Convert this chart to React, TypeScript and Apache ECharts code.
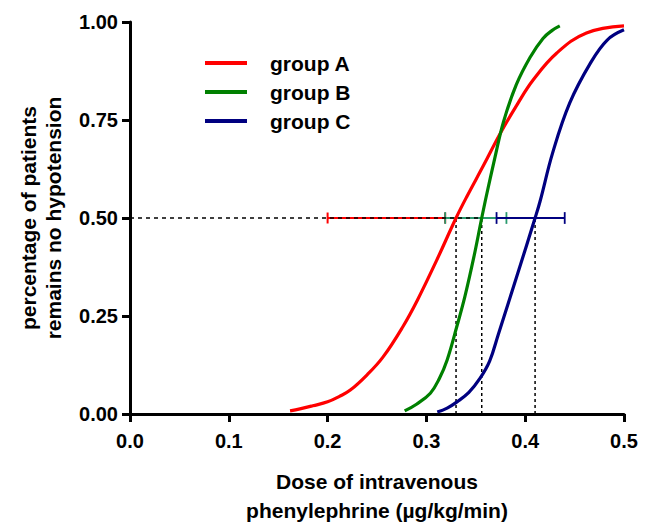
import React, { useEffect, useRef } from "react";
import * as echarts from "echarts";

const groupNames = ["group A", "group B", "group C"];
const colors = ["#ff0000", "#008000", "#000080"];
const errorColors = ["#ff0000", "#2a9a6e", "#000080"];

const groupAX = [0.162, 0.172, 0.185, 0.2, 0.212, 0.223, 0.24, 0.256, 0.276, 0.291, 0.31, 0.33, 0.341, 0.358, 0.375, 0.392, 0.408, 0.432, 0.462, 0.5];
const groupAY = [0.008, 0.013, 0.021, 0.031, 0.045, 0.061, 0.1, 0.145, 0.222, 0.291, 0.39, 0.5, 0.555, 0.635, 0.717, 0.79, 0.852, 0.921, 0.972, 0.99];

const groupBX = [0.278, 0.29, 0.304, 0.313, 0.321, 0.331, 0.339, 0.348, 0.356, 0.361, 0.369, 0.378, 0.391, 0.405, 0.418, 0.427, 0.435];
const groupBY = [0.008, 0.025, 0.053, 0.09, 0.138, 0.225, 0.3, 0.4, 0.5, 0.56, 0.65, 0.745, 0.84, 0.91, 0.958, 0.978, 0.99];

const groupCX = [0.311, 0.321, 0.331, 0.343, 0.354, 0.364, 0.373, 0.392, 0.41, 0.415, 0.428, 0.445, 0.466, 0.483, 0.5];
const groupCY = [0.005, 0.015, 0.031, 0.055, 0.09, 0.135, 0.205, 0.355, 0.5, 0.542, 0.668, 0.793, 0.895, 0.954, 0.98];

const ec50 = [0.33, 0.356, 0.41];
const ciLow = [0.2, 0.319, 0.371];
const ciHigh = [0.319, 0.381, 0.44];
const capHalf = [0.014, 0.015, 0.015];
const halfLevel = 0.5;

const xTicks = ["0.0", "0.1", "0.2", "0.3", "0.4", "0.5"];
const yTicks = ["0.00", "0.25", "0.50", "0.75", "1.00"];

const FONT = "Liberation Sans, Arial, sans-serif";

export default function App() {
  const ref = useRef<HTMLDivElement>(null);
  useEffect(() => {
    if (!ref.current) return;
    document.body.style.margin = "0";
    const chart = echarts.init(ref.current, undefined, { renderer: "svg" });
    const curves = [
      groupAX.map((x, i) => [x, groupAY[i]]),
      groupBX.map((x, i) => [x, groupBY[i]]),
      groupCX.map((x, i) => [x, groupCY[i]]),
    ];
    const errorSeries = [0, 1, 2].map((g) => ({
      type: "custom",
      silent: true,
      z: 3,
      data: [[ciLow[g], ciHigh[g], halfLevel, capHalf[g]]],
      renderItem: (params: any, api: any) => {
        const lo = api.coord([api.value(0), api.value(2)]);
        const hi = api.coord([api.value(1), api.value(2)]);
        const capT = api.coord([api.value(0), api.value(2) + api.value(3)]);
        const capB = api.coord([api.value(0), api.value(2) - api.value(3)]);
        const style = { stroke: errorColors[g], lineWidth: g === 0 ? 2 : 1.8, fill: "none" };
        return {
          type: "group",
          children: [
            { type: "line", shape: { x1: lo[0], y1: lo[1], x2: hi[0], y2: hi[1] }, style },
            { type: "line", shape: { x1: lo[0], y1: capT[1], x2: lo[0], y2: capB[1] }, style },
            { type: "line", shape: { x1: hi[0], y1: capT[1], x2: hi[0], y2: capB[1] }, style },
          ],
        };
      },
    }));
    const vDotted = ec50.map((x) => ({
      type: "line",
      silent: true,
      z: 4,
      symbol: "none",
      data: [[x, 0], [x, halfLevel]],
      lineStyle: { color: "#000", width: 1.5, type: [3, 3] },
    }));
    const option: any = {
      animation: false,
      grid: { left: 130, right: 28, top: 22, bottom: 109, outerBoundsMode: "none", containLabel: false },
      legend: {
        orient: "vertical",
        left: 200,
        top: 47,
        itemWidth: 42,
        itemHeight: 4,
        itemGap: 7,
        icon: "rect",
        data: groupNames,
        textStyle: { fontFamily: FONT, fontWeight: "bold", fontSize: 21, color: "#000", padding: [0, 0, 0, 18], lineHeight: 22 },
      },
      xAxis: {
        type: "value",
        min: 0,
        max: 0.5,
        interval: 0.1,
        name: "Dose of intravenous\nphenylephrine (µg/kg/min)",
        nameLocation: "middle",
        nameGap: 53,
        nameTextStyle: { fontFamily: FONT, fontWeight: "bold", fontSize: 21, color: "#000", lineHeight: 29 },
        axisLine: { lineStyle: { color: "#000", width: 3 } },
        axisTick: { show: true, length: 8, lineStyle: { color: "#000", width: 3 } },
        axisLabel: {
          fontFamily: FONT,
          fontWeight: "bold",
          fontSize: 20,
          color: "#000",
          margin: 17,
          formatter: (v: number) => xTicks[Math.round(v * 10)] ?? v.toFixed(1),
        },
        splitLine: { show: false },
      },
      yAxis: {
        type: "value",
        min: 0,
        max: 1,
        interval: 0.25,
        name: "percentage of patients\nremains no hypotension",
        nameLocation: "middle",
        nameGap: 64,
        nameTextStyle: { fontFamily: FONT, fontWeight: "bold", fontSize: 21, color: "#000", lineHeight: 25 },
        axisLine: { lineStyle: { color: "#000", width: 3 } },
        axisTick: { show: true, length: 8, lineStyle: { color: "#000", width: 3 } },
        axisLabel: {
          fontFamily: FONT,
          fontWeight: "bold",
          fontSize: 20,
          color: "#000",
          margin: 12,
          formatter: (v: number) => yTicks[Math.round(v * 4)] ?? v.toFixed(2),
        },
        splitLine: { show: false },
      },
      series: [
        {
          type: "line",
          silent: true,
          z: 4,
          symbol: "none",
          data: [[0, halfLevel], [ec50[1], halfLevel]],
          lineStyle: { color: "#000", width: 1.5, type: [4, 4] },
        },
        ...vDotted,
        ...errorSeries,
        ...groupNames.map((name, g) => ({
          name,
          type: "line",
          z: 5,
          symbol: "none",
          smooth: 0.4,
          data: curves[g],
          itemStyle: { color: colors[g] },
          lineStyle: { color: colors[g], width: 3.2 },
        })),
      ],
    };
    chart.setOption(option);
    return () => chart.dispose();
  }, []);
  return <div ref={ref} style={{ width: 652, height: 523 }} />;
}
